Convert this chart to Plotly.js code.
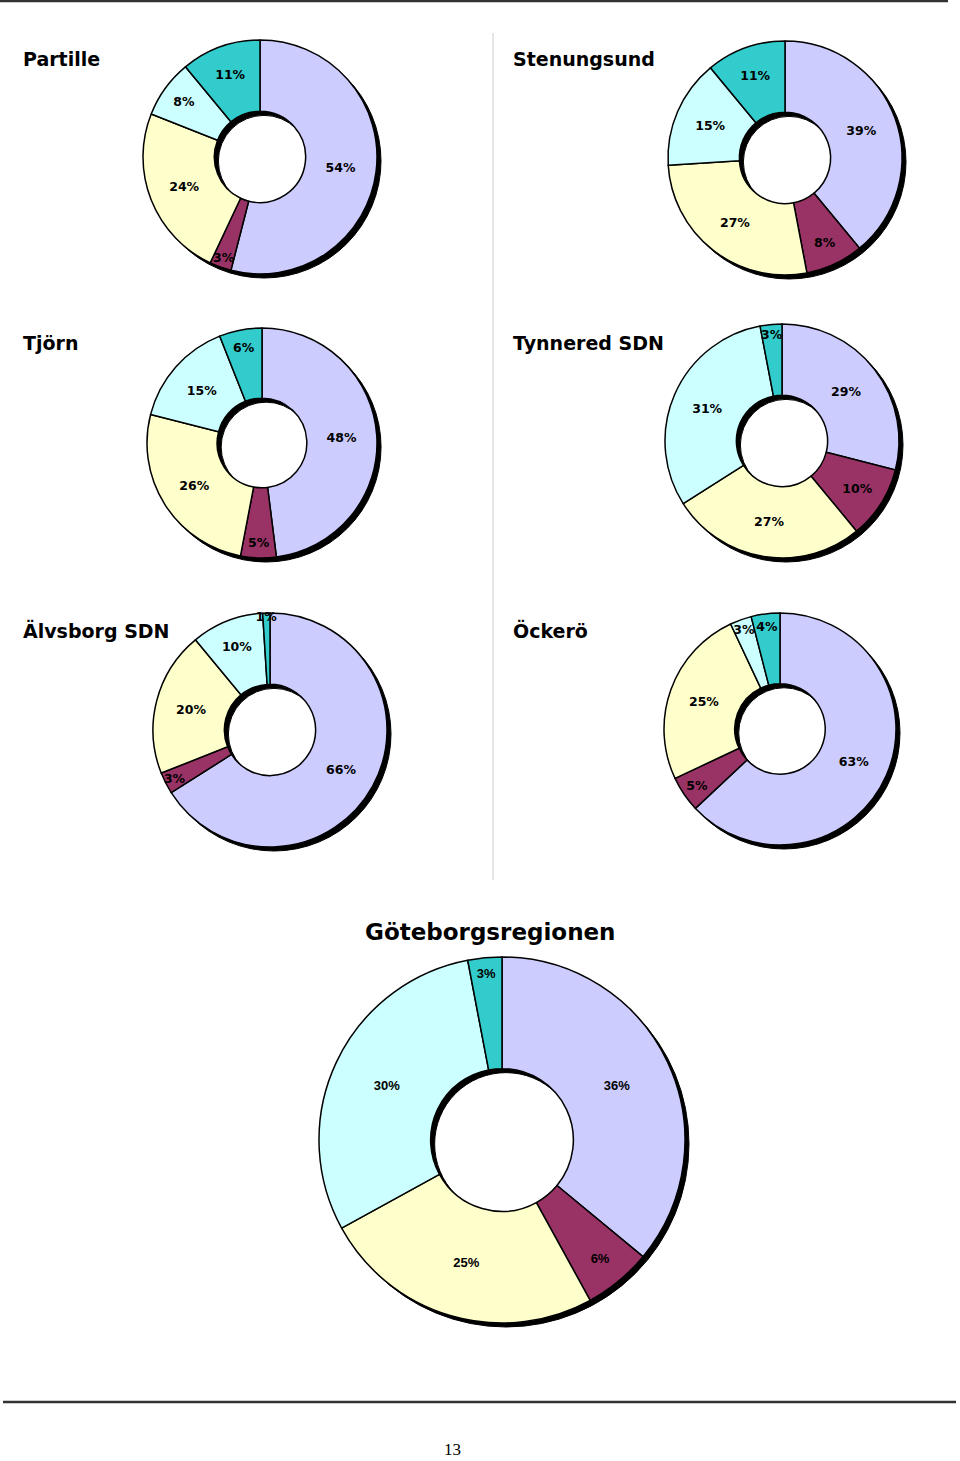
<!DOCTYPE html>
<html>
<head>
<meta charset="utf-8">
<script src="https://cdn.plot.ly/plotly-3.0.1.min.js"></script>
<style>html,body{margin:0;padding:0;background:#fff;}#chart{width:960px;height:1461px;}</style>
</head>
<body>
<div id="chart"></div>
<script>
// ---- data ----
const categories = ['A', 'B', 'C', 'D', 'E'];
const chartTitles = ['Partille', 'Stenungsund', 'Tjörn', 'Tynnered SDN', 'Älvsborg SDN', 'Öckerö', 'Göteborgsregionen'];
const partille     = [54, 3, 24, 8, 11];
const stenungsund  = [39, 8, 27, 15, 11];
const tjorn        = [48, 5, 26, 15, 6];
const tynnered     = [29, 10, 27, 31, 3];
const alvsborg     = [66, 3, 20, 10, 1];
const ockero       = [63, 5, 25, 3, 4];
const goteborg     = [36, 6, 25, 30, 3];
const pageNumber = '13';

// ---- layout helpers ----
const W = 960, H = 1461;
const colors = ['#CCCCFF', '#993366', '#FFFFCC', '#CCFFFF', '#33CCCC'];
const series = [partille, stenungsund, tjorn, tynnered, alvsborg, ockero, goteborg];
const geo = [
  {cx: 260, cy: 157, r: 117, tx: 21, ty: 59, anchor: 'left', fs: 19},
  {cx: 785, cy: 158, r: 117, tx: 511, ty: 59, anchor: 'left', fs: 19},
  {cx: 262, cy: 443, r: 115, tx: 21, ty: 343, anchor: 'left', fs: 19},
  {cx: 782, cy: 441, r: 117, tx: 511, ty: 343, anchor: 'left', fs: 19},
  {cx: 270, cy: 730, r: 117, tx: 21, ty: 630, anchor: 'left', fs: 19},
  {cx: 780, cy: 729, r: 116, tx: 511, ty: 630, anchor: 'left', fs: 19},
  {cx: 502, cy: 1140, r: 183, tx: 490, ty: 932, anchor: 'center', fs: 23}
];
function px(x) { return x / W; }
function py(y) { return 1 - y / H; }
function dom(cx, cy, r) { return {x: [px(cx - r), px(cx + r)], y: [py(cy + r), py(cy - r)]}; }

const traces = [];
const annotations = [];
const HOLE = 0.39;
series.forEach((vals, i) => {
  const g = geo[i];
  const big = i === 6;
  // shadow
  traces.push({
    type: 'pie', values: [1], labels: ['s'], sort: false,
    domain: dom(g.cx + 4, g.cy + 4, g.r), hole: HOLE,
    marker: {colors: ['#000000'], line: {color: '#000', width: 1}},
    textinfo: 'none', hoverinfo: 'skip', showlegend: false
  });
  traces.push({
    type: 'pie', values: vals, labels: categories, sort: false,
    direction: 'clockwise', rotation: 0,
    domain: dom(g.cx, g.cy, g.r), hole: HOLE,
    marker: {colors: colors, line: {color: '#000', width: 1.5}},
    texttemplate: '%{value}%', textposition: 'inside',
    insidetextorientation: 'horizontal',
    textfont: {family: big ? 'Liberation Sans, Arial, sans-serif' : 'DejaVu Sans, Verdana, sans-serif',
               size: big ? 13 : 12.5, color: '#000', weight: 'bold'},
    hoverinfo: 'skip', showlegend: false
  });
  annotations.push({
    xref: 'paper', yref: 'paper', x: px(g.tx), y: py(g.ty),
    xanchor: g.anchor, yanchor: 'middle', showarrow: false,
    text: '<b>' + chartTitles[i] + '</b>',
    font: {family: 'DejaVu Sans, Verdana, sans-serif', size: g.fs, color: '#000'}
  });
});
annotations.push({
  xref: 'paper', yref: 'paper', x: px(452), y: py(1449), xanchor: 'center', yanchor: 'middle',
  showarrow: false, text: pageNumber,
  font: {family: 'Liberation Serif, Times New Roman, serif', size: 17, color: '#000'}
});

const shapes = [
  {type: 'line', xref: 'paper', yref: 'paper', x0: px(0), x1: px(948), y0: py(1), y1: py(1), line: {color: '#333', width: 2.5}},
  {type: 'line', xref: 'paper', yref: 'paper', x0: px(493), x1: px(493), y0: py(33), y1: py(880), line: {color: '#cccccc', width: 1}},
  {type: 'line', xref: 'paper', yref: 'paper', x0: px(3), x1: px(956), y0: py(1402), y1: py(1402), line: {color: '#333', width: 2.5}}
];

const layout = {
  width: W, height: H,
  margin: {l: 0, r: 0, t: 0, b: 0},
  paper_bgcolor: '#fff', plot_bgcolor: '#fff',
  showlegend: false,
  uniformtext: {mode: 'show', minsize: 12.5},
  annotations: annotations,
  shapes: shapes
};
Plotly.newPlot('chart', traces, layout, {staticPlot: true, displayModeBar: false});
</script>
</body>
</html>
